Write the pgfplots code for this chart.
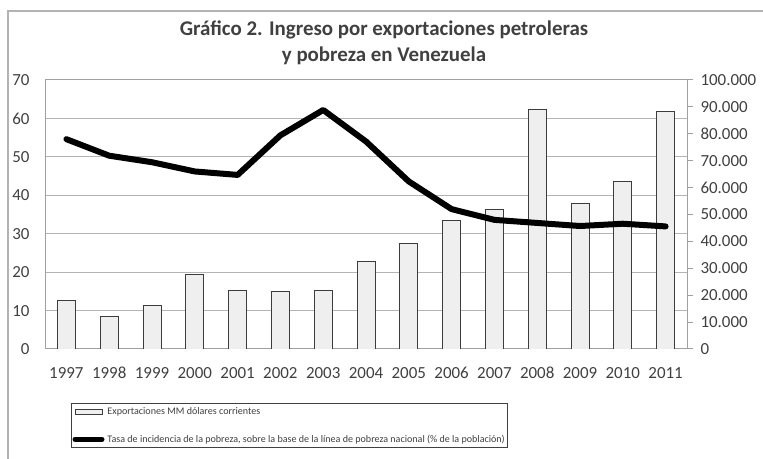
\documentclass[border=0pt]{standalone}
\usepackage{pgfplots}
\pgfplotsset{compat=1.18}
\usepackage{fontspec}
\setmainfont{Carlito}
\definecolor{txt}{HTML}{404040}
\definecolor{axgray}{HTML}{A0A0A0}
\definecolor{gridgray}{HTML}{B4B4B4}
\definecolor{barfill}{HTML}{EFEFEF}
\definecolor{barline}{HTML}{3C3C3C}
\begin{document}
\begin{tikzpicture}[x=1bp,y=1bp]
\useasboundingbox (0,0) rectangle (763,459);
\draw[axgray!80, line width=1.2bp] (8,0) -- (8,448) -- (763,448);
\node[font=\bfseries\fontsize{21}{25}\selectfont, text=txt] at (384,429) {Gráfico 2. Ingreso por exportaciones petroleras};
\node[font=\bfseries\fontsize{21}{25}\selectfont, text=txt] at (384,403) {y pobreza en Venezuela};
% axis A: left axis, grid, x labels
\begin{axis}[at={(45bp,110bp)}, anchor=south west, scale only axis,
  width=642bp, height=269bp,
  xmin=-0.5, xmax=14.5, ymin=0, ymax=70,
  xtick={0,...,14},
  xticklabels={1997,1998,1999,2000,2001,2002,2003,2004,2005,2006,2007,2008,2009,2010,2011},
  ytick={0,10,20,30,40,50,60,70},
  yticklabels={0,10,20,30,40,50,60,70},
  ymajorgrids, grid style={gridgray, line width=1bp},
  axis line style={axgray, line width=1bp},
  major tick length=0pt,
  ticklabel style={font=\fontsize{17}{20}\selectfont, text=txt},
  xticklabel style={anchor=north, text height=12bp, text depth=0pt, yshift=-14bp},
  yticklabel style={xshift=-12bp}]
\end{axis}
% axis B: bars, right axis
\begin{axis}[at={(45bp,110bp)}, anchor=south west, scale only axis,
  width=642bp, height=269bp,
  xmin=-0.5, xmax=14.5, ymin=0, ymax=100000,
  axis x line=none, axis y line*=right,
  ytick={0,10000,20000,30000,40000,50000,60000,70000,80000,90000,100000},
  yticklabels={0,10.000,20.000,30.000,40.000,50.000,60.000,70.000,80.000,90.000,100.000},
  scaled y ticks=false,
  axis line style={axgray, line width=1bp},
  tick style={axgray, line width=1bp},
  tick align=outside, major tick length=6bp,
  yticklabel style={font=\fontsize{17}{20}\selectfont, text=txt, xshift=4bp}]
\addplot[ybar, bar width=18bp, fill=barfill, draw=barline, line width=0.9bp] coordinates {
(0,18000) (1,12000) (2,16100) (3,27800) (4,21800) (5,21300) (6,21800) (7,32600)
(8,39200) (9,47900) (10,51700) (11,89200) (12,54200) (13,62400) (14,88200)};
\end{axis}
% axis C: poverty line
\begin{axis}[at={(45bp,110bp)}, anchor=south west, scale only axis,
  width=642bp, height=269bp,
  xmin=-0.5, xmax=14.5, ymin=0, ymax=70, hide axis, clip=false,
  legend style={at={(0.0405,-0.2)}, anchor=north west, draw=txt, line width=1bp,
    font=\fontsize{10.1}{12}\selectfont, text=txt, inner xsep=1bp, inner ysep=2bp,
    row sep=15bp, /tikz/column sep=1bp},
  legend cell align=left]
\addlegendimage{legend image code/.code={\draw[fill=barfill, draw=barline, line width=0.8bp] (0bp,-2.5bp) rectangle (27bp,2.5bp);}}
\addlegendentry{Exportaciones MM dólares corrientes}
\addplot[black, line width=6bp, line join=round, line cap=round,
  legend image code/.code={\draw[black, line width=5bp] (0bp,0bp) -- (27bp,0bp);}] coordinates {
(0,54.6) (1,50.3) (2,48.6) (3,46.2) (4,45.3) (5,55.6) (6,62.2) (7,54.0)
(8,43.6) (9,36.4) (10,33.6) (11,32.8) (12,32.0) (13,32.6) (14,31.9)};
\addlegendentry{Tasa de incidencia de la pobreza, sobre la base de la línea de pobreza nacional (\% de la población)}
\end{axis}
\end{tikzpicture}
\end{document}
